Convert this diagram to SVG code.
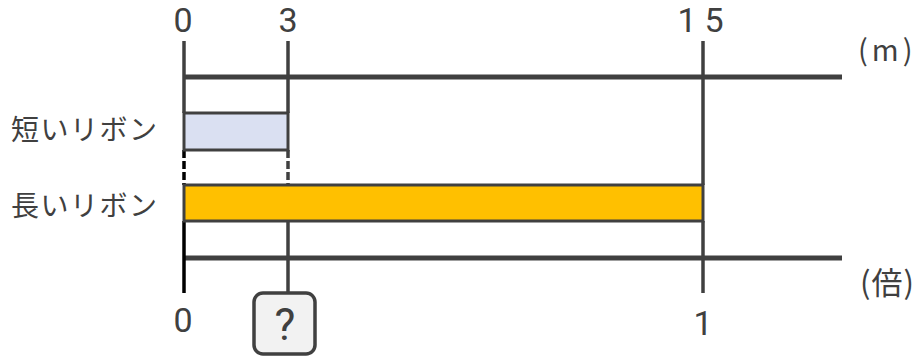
<svg xmlns="http://www.w3.org/2000/svg" width="924" height="358" viewBox="0 0 924 358">
<style>
.t{font-family:"Noto Sans CJK JP","Noto Sans",sans-serif;fill:#404040}
.num{font-family:Roboto,"Liberation Sans",sans-serif;font-size:34px;text-anchor:middle;fill:#404040}
.lab{font-size:28px;letter-spacing:1.5px}
.ax{stroke:#404040;stroke-width:5;fill:none}
.tk{stroke:#404040;stroke-width:3.5;fill:none}
.dk{stroke:#000;stroke-width:3.5;fill:none}
.dash{stroke-dasharray:8 3}
</style>
<rect width="924" height="358" fill="#fff"/>
<g id="connectors">
<line class="ax" x1="183" y1="77" x2="842" y2="77"/>
<line class="ax" x1="183" y1="258" x2="842" y2="258"/>
<line class="tk" x1="184" y1="41" x2="184" y2="113"/>
<line class="tk" x1="288" y1="41" x2="288" y2="113"/>
<line class="tk" x1="703" y1="41" x2="703" y2="185"/>
<line class="dk dash" x1="184" y1="150" x2="184" y2="185"/>
<line class="tk dash" x1="288" y1="150" x2="288" y2="185"/>
<line class="dk" x1="184" y1="221" x2="184" y2="293"/>
<line class="tk" x1="288" y1="221" x2="288" y2="292"/>
<line class="tk" x1="703" y1="221" x2="703" y2="293"/>
</g>
<g id="short-ribbon">
<rect x="184" y="113" width="104" height="37" fill="#dae0f2" stroke="#404040" stroke-width="3"/>
<text class="t lab" x="11" y="140">短いリボン</text>
</g>
<g id="long-ribbon">
<rect x="184" y="185" width="519" height="36" fill="#ffc000" stroke="#404040" stroke-width="3"/>
<text class="t lab" x="11" y="216">長いリボン</text>
</g>
<g id="top-scale">
<text class="num" x="183" y="32">0</text>
<text class="num" x="288" y="32">3</text>
<text class="num" x="687" y="32">1</text>
<text class="num" x="714" y="32">5</text>
<text class="t" x="858" y="61" font-size="29" letter-spacing="4">(m)</text>
</g>
<g id="bottom-scale">
<text class="num" x="183" y="332">0</text>
<text class="num" x="703" y="335">1</text>
<text class="t" x="860" y="294" font-size="31" letter-spacing="1">(倍)</text>
</g>
<g id="question">
<rect x="254" y="293" width="61" height="61" rx="9" fill="#f2f2f2" stroke="#404040" stroke-width="3.5"/>
<text class="num" x="285" y="340" style="font-size:44px">?</text>
</g>
</svg>
